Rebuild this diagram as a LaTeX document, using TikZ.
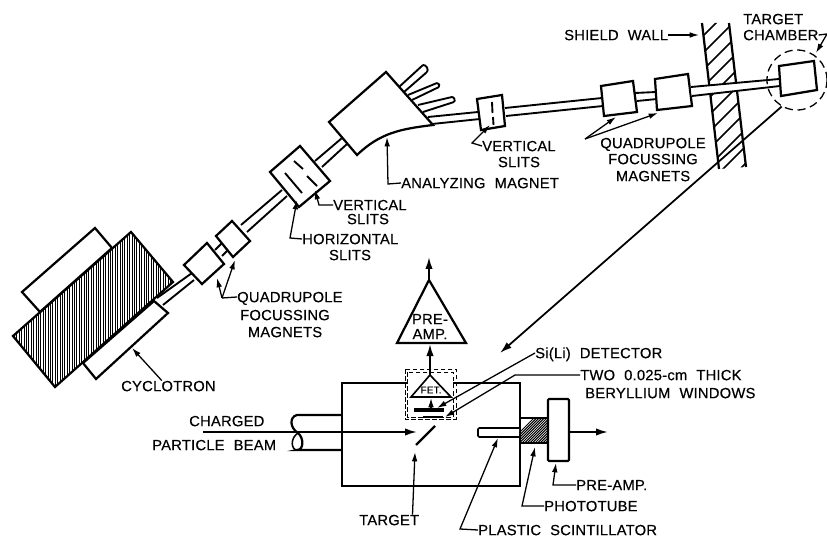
\documentclass[tikz,border=0pt]{standalone}
\usepackage{fontspec}
\setmainfont[WordSpace=2.1,FakeBold=0.35,LetterSpace=1.5]{Liberation Sans}
\usetikzlibrary{arrows.meta}

\begin{document}
\begin{tikzpicture}[
  x=.03cm,y=-.03cm,
  lbl/.style={inner sep=0pt,text height=.31cm,text depth=0pt,font=\fontsize{12.6}{14}\selectfont},
  fetlbl/.style={inner sep=0pt,font=\fontsize{8.5}{10}\selectfont},
  outline/.style={line width=1.9pt,draw=black,line join=miter},
  magnet/.style={outline,fill=white},
  tube/.style={line width=1.6pt,draw=black},
  hatchline/.style={line width=.75pt,draw=black},
  wallhatch/.style={line width=1.4pt,draw=black},
  edge/.style={-{Latex[length=2.8mm,width=1.7mm]},line width=1.1pt,draw=black},
  leader/.style={line width=1.1pt,draw=black},
  flow/.style={-{Latex[length=3.6mm,width=2.2mm]},line width=1.5pt,draw=black},
  shieldbox/.style={line width=.7pt,dash pattern=on 4pt off 2pt,draw=black}
]
\useasboundingbox (0,0) rectangle (827,537);

% cyclotron
\draw[magnet] (22,292) -- (95,228) -- (112,248) -- (40,312) -- cycle;
\draw[magnet] (83,363) -- (154,301) -- (168,313) -- (96,379) -- cycle;
\begin{scope}
  \clip (13,336) -- (131,232) -- (173,282) -- (55,387) -- cycle;
  \foreach \x in {12,14.4,...,176} {\draw[hatchline] (\x,228) -- (\x,390);}
\end{scope}
\draw[outline] (13,336) -- (131,232) -- (173,282) -- (55,387) -- cycle;

% beam line, cyclotron to analyzing magnet
\draw[tube] (157,298) -- (192,273);
\draw[tube] (163,305) -- (194,280);
\draw[tube] (215,250) -- (222,243);
\draw[tube] (222,256) -- (228,250);
\draw[tube] (241,225) -- (282,190);
\draw[tube] (247,232) -- (287,196);
\draw[tube] (315,161) -- (342,138);
\draw[tube] (322,167) -- (347,144);
\draw[magnet] (184,265) -- (207,243) -- (224,264) -- (202,284) -- cycle;
\draw[magnet] (216,236) -- (232,221) -- (250,241) -- (233,257) -- cycle;

% slit box
\draw[magnet] (270,172) -- (300,146) -- (330,181) -- (299,207) -- cycle;
\draw[tube] (294,161) -- (303,169);
\draw[tube] (307,176) -- (317,186);
\draw[tube] (285,173) -- (302,193);

% analyzing magnet and its ports
\draw[tube] (423,65) -- (399,87);
\draw[tube] (427,72) -- (404,92);
\draw[tube] (423,65) to[bend left=70] (427,72);
\draw[tube] (437,83) -- (408,95);
\draw[tube] (439,87) -- (412,100);
\draw[tube] (437,83) to[bend left=70] (439,87);
\draw[tube] (452,97) -- (418,105);
\draw[tube] (454,102) -- (423,112);
\draw[tube] (452,97) to[bend left=70] (454,102);
\draw[magnet] (329,122) -- (386,72) -- (433,125) .. controls (400,129) and (380,133) .. (357,155) -- cycle;

% beam line to target chamber
\draw[tube] (428,117) -- (478,112);
\draw[tube] (432,124) -- (480,119);
\draw[tube] (505,108) -- (602,98);
\draw[tube] (506,116) -- (603,106);
\draw[tube] (635,93) -- (656,92);
\draw[tube] (637,101) -- (657,99);
\draw[magnet] (477,99) -- (502,95) -- (505,126) -- (481,130) -- cycle;
\draw[tube] (492,102) -- (492.5,113);
\draw[tube] (493,117) -- (493.5,125);
\draw[magnet] (601,86) -- (633,81) -- (637,112) -- (604,116) -- cycle;
\draw[magnet] (655,79) -- (688,74) -- (692,106) -- (657,110) -- cycle;

% shield wall
\begin{scope}
  \clip (702,23) -- (729,23) -- (746,167) -- (719,169) -- cycle;
  \foreach \k in {0,...,10} {\draw[wallhatch] (695,44+17*\k) -- (750,-11+17*\k);}
\end{scope}
\draw[outline] (702,23) -- (719,169);
\draw[outline] (729,23) -- (746,167);
\filldraw[fill=white,draw=white] (691,87) -- (779,79) -- (780,86) -- (692,96) -- cycle;
\draw[tube] (691,87) -- (779,79);
\draw[tube] (692,96) -- (780,86);

% target chamber
\node[circle,draw,line width=1.1pt,dash pattern=on 7pt off 4pt,minimum size=1.8cm,inner sep=0pt] (ring) at (797,80) {};
\draw[magnet] (779,66) -- (814,61) -- (817,90) -- (781,96) -- cycle;

% detail of the chamber
\coordinate (detail) at (500,353);
\draw[flow] (ring.240) -- (detail);
\draw[outline] (407,383) -- (342,383) -- (342,486) -- (520,486) -- (520,383) -- (453,383);
\draw[outline] (342,415) -- (297,415) .. controls (289,417) and (290,428) .. (298,433) .. controls (304,438) and (304,450) .. (297,450) -- (342,450);
\draw[outline,line width=1.3pt] (298,433) .. controls (290,438) and (291,450) .. (297,450);
\coordinate (beamstart) at (203,432);
\coordinate (beamend) at (417,432);
\draw[flow] (beamstart) -- (beamend);
\draw[line width=2pt] (416,445) -- (435,426);
\draw[shieldbox] (405,369) rectangle (456,419);
\draw[shieldbox] (407,372) rectangle (453,417);

% preamp and FET
\draw[outline,line width=1.4pt] (430,375) -- (411,397) -- (451,397) -- cycle;
\node[fetlbl] (fet) at (431,390) {FET.};
\draw[line width=3pt] (414,410) -- (444,410);
\draw[line width=2.4pt] (423,417) -- (443,417);
\coordinate (fetin) at (431,407);
\coordinate (fetbase) at (431,398);
\draw[edge] (fetin) -- (fetbase);
\draw[magnet] (429,280) -- (397,343) -- (466,343) -- cycle;
\node[lbl] (preA) at (430,319) {PRE-};
\node[lbl] (preB) at (430,334) {AMP.};
\coordinate (fetapex) at (430,375);
\coordinate (prebase) at (430,344);
\coordinate (preapex) at (429,280);
\coordinate (preout) at (429,257);
\draw[flow] (fetapex) -- (prebase);
\draw[flow] (preapex) -- (preout);

% scintillator, phototube, preamp
\draw[magnet,line width=1.4pt,rounded corners=1pt] (519,428) -- (478,428) -- (478,437) -- (519,437);
\begin{scope}
  \clip (519,418) rectangle (548,443);
  \foreach \k in {0,...,30} {\draw[line width=.85pt] (505+2.6*\k,447) -- (540+2.6*\k,412);}
\end{scope}
\draw[outline] (520,418) -- (548,418);
\draw[outline] (520,443) -- (548,443);
\draw[magnet,rounded corners=1pt] (548,399) rectangle (569,461);
\coordinate (ampout) at (570,432);
\coordinate (ampend) at (608,432);
\draw[flow] (ampout) -- (ampend);

% labels
\node[lbl,anchor=west] (cyclotron) at (121,386) {CYCLOTRON};
\node[lbl,anchor=west] (quadlow) at (237,297) {QUADRUPOLE};
\node[lbl] (quadlowB) at (285,315) {FOCUSSING};
\node[lbl] (quadlowC) at (285,332) {MAGNETS};
\node[lbl,anchor=west] (hslits) at (302,239) {HORIZONTAL};
\node[lbl] (hslitsB) at (350,255) {SLITS};
\node[lbl,anchor=west] (vslits) at (333,205) {VERTICAL};
\node[lbl] (vslitsB) at (368,219) {SLITS};
\node[lbl,anchor=west] (analyzing) at (401,183) {ANALYZING MAGNET};
\node[lbl,anchor=west] (vslitstop) at (482,146) {VERTICAL};
\node[lbl] (vslitstopB) at (519,162) {SLITS};
\node[lbl] (quadup) at (653,143) {QUADRUPOLE};
\node[lbl] (quadupB) at (653,159) {FOCUSSING};
\node[lbl] (quadupC) at (653,176) {MAGNETS};
\node[lbl,anchor=west] (shield) at (564,35) {SHIELD WALL};
\node[lbl,anchor=west] (chamberA) at (743,19) {TARGET};
\node[lbl,anchor=west] (chamber) at (743,35) {CHAMBER};
\node[lbl,anchor=west] (charged) at (189,421) {CHARGED};
\node[lbl,anchor=west] (particle) at (152,445) {PARTICLE BEAM};
\node[lbl,anchor=west] (target) at (359,520) {TARGET};
\node[lbl,anchor=west] (plastic) at (478,530) {PLASTIC SCINTILLATOR};
\node[lbl,anchor=west] (photo) at (544,506) {PHOTOTUBE};
\node[lbl,anchor=west] (pream) at (576,485) {PRE-AMP.};
\node[lbl,anchor=west] (sili) at (535,353) {Si(Li) DETECTOR};
\node[lbl,anchor=west] (two) at (580,375) {TWO 0.025-cm THICK};
\node[lbl,anchor=west] (beryl) at (585,393) {BERYLLIUM WINDOWS};

% leaders
\draw[edge] ([xshift=-.2cm]cyclotron.north) -- (132,348);
\draw[leader] (quadlow.west) -- (222,298);
\draw[edge] (222,298) -- (217,278);
\draw[edge] (222,298) -- (235,260);
\draw[edge] (hslits.west) -- (290,238) -- (297,200);
\draw[edge] (vslits.west) -- (319,205) -- (315,190);
\draw[edge] (analyzing.west) -- (388,184) -- (387,137);
\draw[edge] (vslitstop.west) -- (472,143) -- (490,125);
\coordinate (quadfan) at (585,139);
\draw[edge] (quadfan) -- (616,117);
\draw[edge] (quadfan) -- (658,113);
\draw[edge] (shield.east) -- (699,35);
\draw[edge] (chamber.east) -- (827,34) -- (816,53);
\draw[edge] (sili.west) -- (437,408);
\draw[edge] (two.west) -- (515,375) -- (445,417);
\draw[edge] ([xshift=.7cm]target.north) -- (415,452);
\draw[edge] (plastic.west) -- (460,529) -- (498,438);
\draw[edge] (photo.west) -- (522,506) -- (535,447);
\draw[edge] (pream.west) -- (553,485) -- (556,463);
\end{tikzpicture}
\end{document}
